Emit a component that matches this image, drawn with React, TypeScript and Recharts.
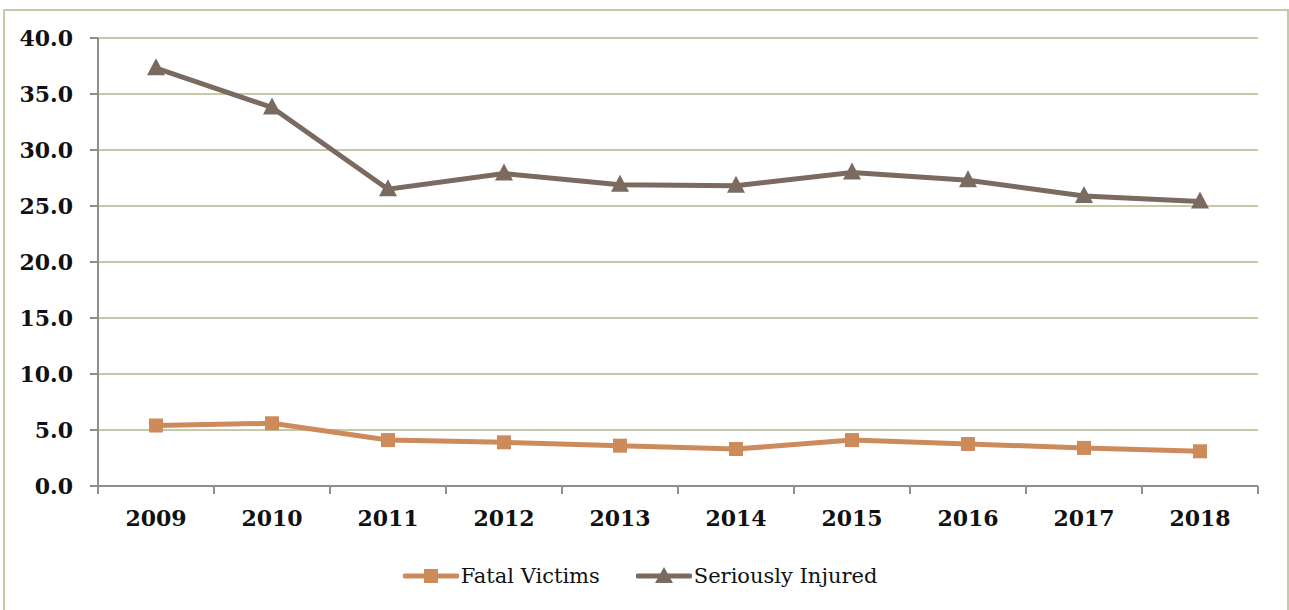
import { LineChart, Line, XAxis, YAxis, CartesianGrid, Legend } from "recharts";

const years = ["2009", "2010", "2011", "2012", "2013", "2014", "2015", "2016", "2017", "2018"];
const fatalVictims = [5.4, 5.6, 4.1, 3.9, 3.6, 3.3, 4.1, 3.75, 3.4, 3.1];
const seriouslyInjured = [37.3, 33.8, 26.5, 27.9, 26.9, 26.8, 28.0, 27.3, 25.9, 25.4];
const yTicks = [0, 5, 10, 15, 20, 25, 30, 35, 40];

// x is the band centre on a numeric axis so ticks can sit on band edges
const rows = years.map((year, i) => ({
  x: i + 0.5,
  year,
  fatal: fatalVictims[i],
  injured: seriouslyInjured[i],
}));

const xTicks: number[] = [];
for (let i = 0; i <= years.length * 2; i++) xTicks.push(i / 2);

const FATAL = "#cd8a5b";
const INJURED = "#7a6a5f";
const AXIS = "#8e8e8e";
const GRID = "#c5c9a8";
const TICK_FONT = "'DejaVu Serif', serif";
const LEGEND_FONT = "'DejaVu Serif', serif";

function XTick(props: any) {
  const { x, y, payload } = props;
  const v = payload.value as number;
  if (Number.isInteger(v)) {
    return <line x1={x} y1={y} x2={x} y2={y + 8} stroke={AXIS} strokeWidth={2} />;
  }
  return (
    <text
      x={x}
      y={y + 40}
      textAnchor="middle"
      fontFamily={TICK_FONT}
      fontWeight="bold"
      fontSize={22}
      fill="#111"
    >
      {years[Math.floor(v)]}
    </text>
  );
}

function SquareDot(props: any) {
  const { cx, cy } = props;
  if (cx == null || cy == null) return null;
  return <rect x={cx - 7} y={cy - 7} width={14} height={14} fill={FATAL} />;
}

function TriangleDot(props: any) {
  const { cx, cy } = props;
  if (cx == null || cy == null) return null;
  return <polygon points={`${cx},${cy - 10} ${cx - 9},${cy + 7} ${cx + 9},${cy + 7}`} fill={INJURED} />;
}

function LegendContent() {
  const item = (color: string, label: string, marker: "square" | "triangle") => (
    <div style={{ display: "flex", alignItems: "center" }}>
      <svg width={56} height={20}>
        <line x1={2} y1={10} x2={54} y2={10} stroke={color} strokeWidth={5} strokeLinecap="round" />
        {marker === "square" ? (
          <rect x={21} y={3} width={14} height={14} fill={color} />
        ) : (
          <polygon points="28,1 19,17 37,17" fill={color} />
        )}
      </svg>
      <span style={{ fontFamily: LEGEND_FONT, fontSize: 21, color: "#111", marginLeft: 2 }}>{label}</span>
    </div>
  );
  return (
    <div style={{ display: "flex", justifyContent: "center", alignItems: "center", gap: 36, height: 60, marginLeft: 22 }}>
      {item(FATAL, "Fatal Victims", "square")}
      {item(INJURED, "Seriously Injured", "triangle")}
    </div>
  );
}

export default function App() {
  return (
    <div style={{ position: "absolute", left: 0, top: 0, width: 1289, height: 610, background: "#fff", overflow: "hidden" }}>
      <div
        style={{
          position: "absolute",
          left: 3,
          top: 9,
          width: 1282,
          height: 640,
          border: `2px solid ${GRID}`,
        }}
      />
      <div style={{ position: "absolute", left: 0, top: 0 }}>
        <LineChart width={1289} height={610} data={rows} margin={{ top: 38, right: 31, left: 0, bottom: 0 }}>
          <CartesianGrid vertical={false} stroke={GRID} strokeWidth={2} />
          <XAxis
            dataKey="x"
            type="number"
            domain={[0, years.length]}
            ticks={xTicks}
            interval={0}
            height={60}
            tickLine={false}
            tickSize={0}
            tickMargin={0}
            axisLine={{ stroke: AXIS, strokeWidth: 2 }}
            tick={<XTick />}
          />
          <YAxis
            domain={[0, 40]}
            ticks={yTicks}
            interval={0}
            width={98}
            tickSize={8}
            tickMargin={17}
            axisLine={{ stroke: AXIS, strokeWidth: 2 }}
            tickLine={{ stroke: AXIS, strokeWidth: 2 }}
            tickFormatter={(v: number) => v.toFixed(1)}
            tick={{ fontFamily: TICK_FONT, fontWeight: "bold", fontSize: 22, fill: "#111" }}
          />
          <Legend verticalAlign="bottom" height={64} content={<LegendContent />} />
          <Line
            dataKey="fatal"
            name="Fatal Victims"
            stroke={FATAL}
            strokeWidth={5}
            dot={<SquareDot />}
            activeDot={false}
            isAnimationActive={false}
          />
          <Line
            dataKey="injured"
            name="Seriously Injured"
            stroke={INJURED}
            strokeWidth={5}
            dot={<TriangleDot />}
            activeDot={false}
            isAnimationActive={false}
          />
        </LineChart>
      </div>
    </div>
  );
}
